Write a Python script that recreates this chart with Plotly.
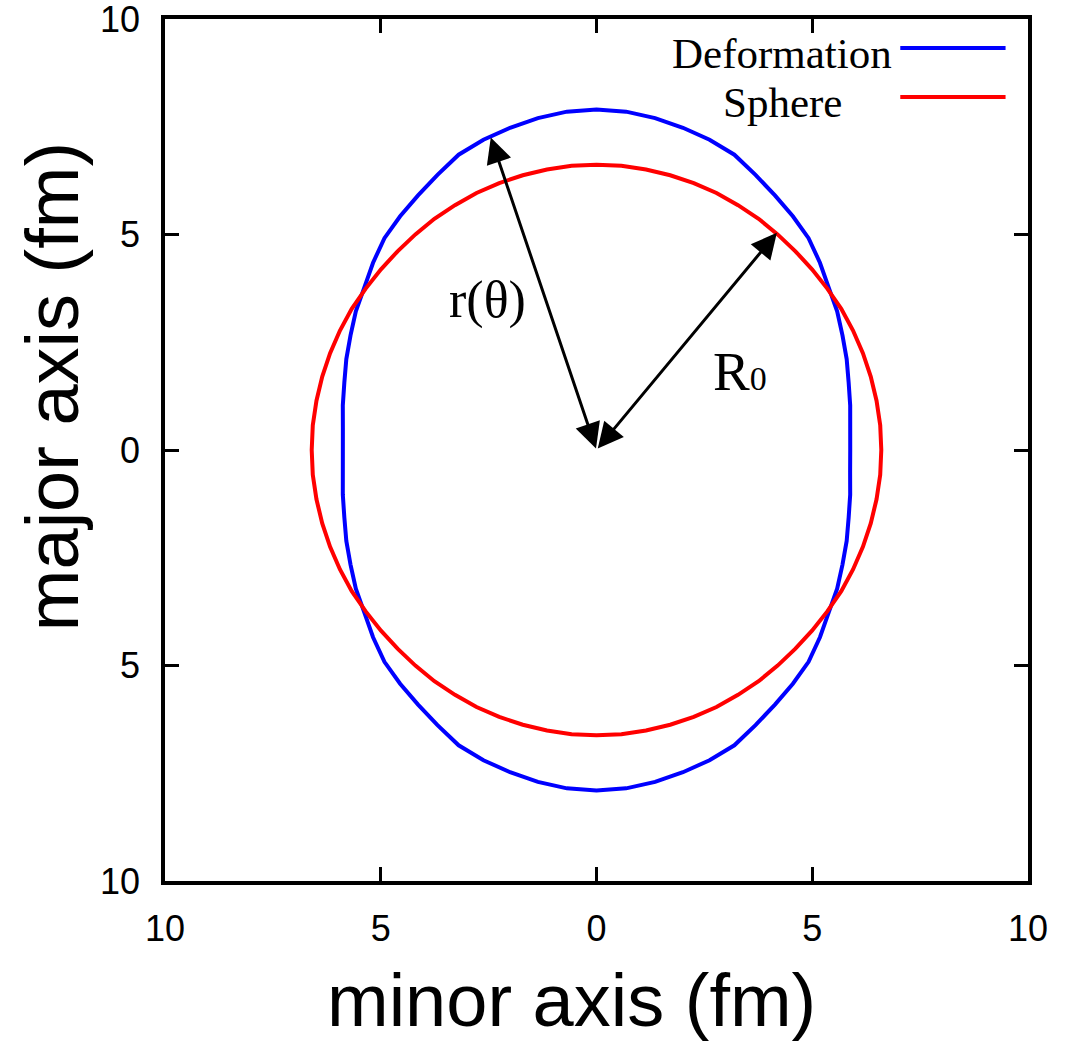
import numpy as np
import plotly.graph_objects as go

# Outline radii (fm) sampled in the first quadrant; angle measured from the minor axis
angle_deg = [0, 5, 10, 15, 20, 25, 30, 35, 40, 45, 50, 55, 60, 65, 70, 75, 80, 85, 90]
r_deformation = [5.88, 5.90, 5.97, 6.05, 6.17, 6.29, 6.44, 6.57, 6.76, 6.95,
                 7.08, 7.21, 7.37, 7.56, 7.66, 7.74, 7.82, 7.88, 7.90]
r_sphere = [6.60, 6.60, 6.59, 6.58, 6.57, 6.56, 6.55, 6.53, 6.52, 6.52,
            6.53, 6.55, 6.56, 6.58, 6.59, 6.60, 6.61, 6.62, 6.62]

# Arrow end points (fm): r(theta) to the deformed surface, R0 to the sphere
r_theta_tip = (-2.45, 7.25)
r0_tip = (4.18, 5.04)
center = (0.0, 0.0)

tick_vals = [-10, -5, 0, 5, 10]
tick_text = ["10", "5", "0", "5", "10"]

series_names = ["Deformation", "Sphere"]
series_colors = ["#0000ff", "#ff0000"]


def closed_outline(angles, radii):
    """Mirror a first-quadrant polar outline into a closed x/y curve."""
    a = np.radians(angles)
    r = np.asarray(radii, dtype=float)
    full_a = np.concatenate([a, np.pi - a[::-1][1:], np.pi + a[1:], 2 * np.pi - a[::-1][1:]])
    full_r = np.concatenate([r, r[::-1][1:], r[1:], r[::-1][1:]])
    return full_r * np.cos(full_a), full_r * np.sin(full_a)


fig = go.Figure()

for name, radii, color in zip(series_names, [r_deformation, r_sphere], series_colors):
    x, y = closed_outline(angle_deg, radii)
    fig.add_trace(go.Scatter(x=x, y=y, mode="lines", name=name,
                             line=dict(color=color, width=4), showlegend=False))

# Key: centred labels with sample lines to their right
key_rows = [9.33, 8.19]
key_line_x = (7.04, 9.48)
key_text_x = 4.3
for name, color, ky in zip(series_names, series_colors, key_rows):
    fig.add_shape(type="line", xref="x", yref="y", x0=key_line_x[0], x1=key_line_x[1],
                  y0=ky, y1=ky, line=dict(color=color, width=4))
    fig.add_annotation(x=key_text_x, y=ky - 0.12, xref="x", yref="y", text=name,
                       showarrow=False, xanchor="center", yanchor="middle",
                       font=dict(family="Liberation Serif", size=43, color="black"))

# Double-headed arrows from the centre
for tip in [r_theta_tip, r0_tip]:
    fig.add_annotation(x=tip[0], y=tip[1], ax=center[0], ay=center[1],
                       xref="x", yref="y", axref="x", ayref="y", text="",
                       showarrow=True, arrowhead=2, startarrowhead=2,
                       arrowside="end+start", arrowsize=1.7, startarrowsize=1.7,
                       arrowwidth=3, arrowcolor="black")

fig.add_annotation(x=-2.52, y=3.48, xref="x", yref="y", text="r(θ)", showarrow=False,
                   font=dict(family="Liberation Serif", size=52, color="black"))
fig.add_annotation(x=3.33, y=1.81, xref="x", yref="y",
                   text="R<span style='font-size:34px'>0</span>", showarrow=False,
                   font=dict(family="Liberation Serif", size=55, color="black"))

# Axis titles
title_font = dict(family="Liberation Sans", size=74, color="black")
fig.add_annotation(x=0.4705, y=-0.139, xref="paper", yref="paper", text="minor axis (fm)",
                   showarrow=False, xanchor="center", yanchor="middle", font=title_font)
fig.add_annotation(x=-0.131, y=0.574, xref="paper", yref="paper", text="major axis (fm)",
                   textangle=-90, showarrow=False, xanchor="center", yanchor="middle",
                   font=title_font)

axis_common = dict(
    range=[-10, 10], tickvals=tick_vals, ticktext=tick_text,
    showline=True, linecolor="black", linewidth=3.5, mirror="ticks",
    ticks="inside", ticklen=14, tickwidth=3, tickcolor="black",
    showgrid=False, zeroline=False, ticklabeloverflow="allow", automargin=False,
    tickfont=dict(family="Liberation Sans", size=36, color="black"),
)

fig.update_xaxes(**axis_common, ticklabelstandoff=13)
fig.update_yaxes(**axis_common, ticklabelstandoff=14)

fig.update_layout(
    width=1077, height=1045,
    margin=dict(l=165, r=49, t=19, b=164, autoexpand=False),
    plot_bgcolor="white", paper_bgcolor="white",
)

fig.write_html("out.html")
